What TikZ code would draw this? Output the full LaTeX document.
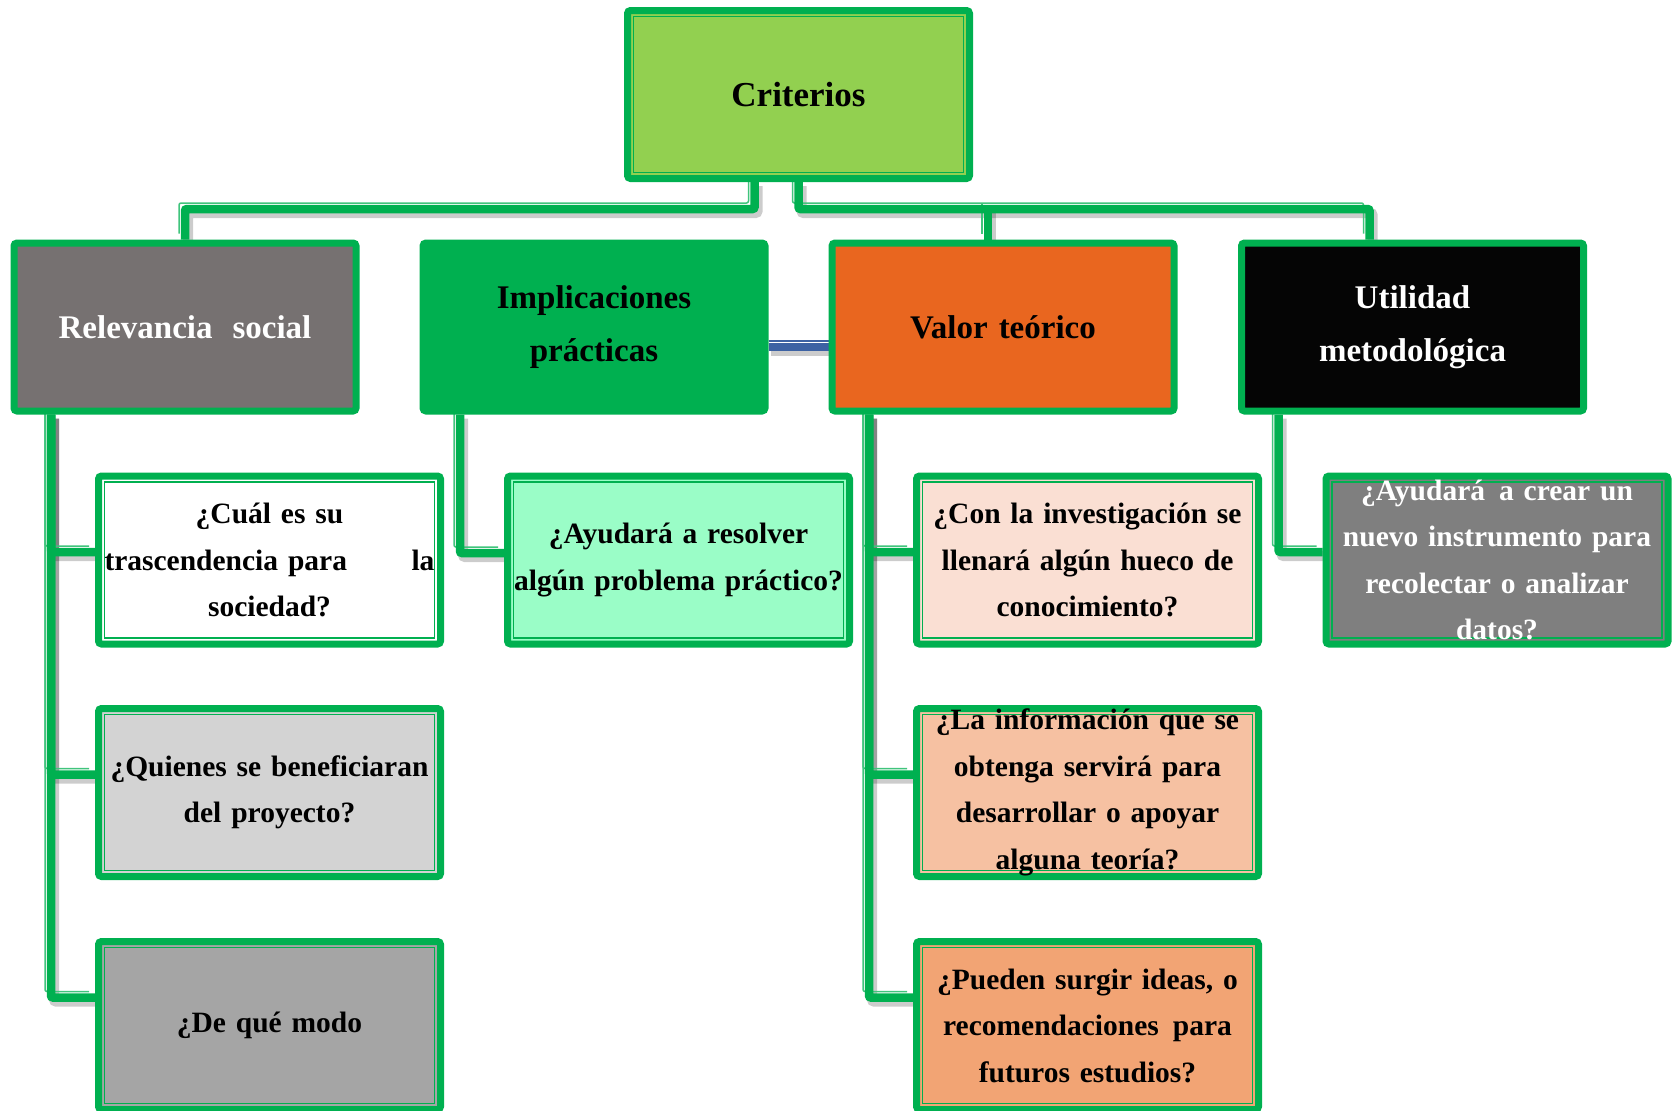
\documentclass[tikz,border=0pt]{standalone}
\usepackage{fontspec}
\setmainfont{Liberation Serif}
\usetikzlibrary{calc,backgrounds}
\definecolor{gr}{HTML}{00B050}
\definecolor{limeg}{HTML}{92D050}
\definecolor{relg}{HTML}{767171}
\definecolor{orng}{HTML}{E9661F}
\definecolor{blk}{HTML}{050505}
\definecolor{mint}{HTML}{9AFDC7}
\definecolor{peachA}{HTML}{FADFD3}
\definecolor{peachB}{HTML}{F6C1A2}
\definecolor{peachC}{HTML}{F2A474}
\definecolor{lgrey}{HTML}{D3D3D3}
\definecolor{mgrey}{HTML}{A5A5A5}
\definecolor{dgrey}{HTML}{7F7F7F}
\definecolor{blink}{HTML}{3D62A3}
\begin{document}
\begin{tikzpicture}[x=1pt,y=-1pt,
  box/.style={draw=gr, line width=7pt, rounded corners=3pt,
    minimum width=342pt, minimum height=168pt, inner sep=0pt,
    align=center, text width=332pt,
    font=\bfseries\fontsize{29.5}{46.5}\selectfont},
  headbox/.style={box, font=\bfseries\fontsize{33}{53}\selectfont},
  inner/.style={path picture={\draw[gr, line width=1.6pt, rounded corners=0pt]
     ([shift={(6pt,-6pt)}]path picture bounding box.north west) rectangle
     ([shift={(-6pt,6pt)}]path picture bounding box.south east);}},
  conn/.style={draw=gr, line width=8.5pt, rounded corners=2pt},
  cthin/.style={draw=gr!75, line width=1.5pt, rounded corners=2pt,
     transform canvas={shift={(-6pt,6pt)}}},
  cshadow/.style={draw=black, opacity=0.2, line width=10pt, rounded corners=2pt,
     transform canvas={shift={(3pt,-4pt)}}},
  bshadow/.style={draw=black, opacity=0.2, line width=11pt,
     transform canvas={shift={(2pt,-5pt)}}},
  bluelink/.style={draw=blink, line width=11pt},
  bluemid/.style={draw=white, line width=1.8pt, transform canvas={shift={(0pt,2.5pt)}}}
]
\useasboundingbox (0,0) rectangle (1676,1111);
\clip (0,0) rectangle (1676,1111);

% main node
\node[box, inner, fill=limeg, font=\bfseries\fontsize{35}{42}\selectfont] (crit) at (798.5,94.5) {Criterios};

% second level
\node[headbox, fill=relg, text=white] (rel) at (185,327) {Relevancia\hspace{20pt}social};
\node[headbox, fill=gr, text=black] (imp) at (594,327) {Implicaciones\\prácticas};
\node[headbox, fill=orng, text=black] (val) at (1003,327) {Valor teórico};
\node[headbox, fill=blk, text=white] (uti) at (1412.5,327) {Utilidad\\metodológica};

% third level
\node[box, inner, fill=white] (cual) at (269.5,560)
  {¿Cuál es su\\\makebox[330pt][s]{trascendencia para\hfill la}\\sociedad?};
\node[box, inner, fill=lgrey] (quien) at (269.5,792.5)
  {¿Quienes se beneficiaran\\del proyecto?};
\node[box, inner, fill=mgrey] (modo) at (269.5,1025.5) {¿De qué modo};
\node[box, inner, fill=mint] (ayuA) at (678.5,560)
  {¿Ayudará a resolver\\algún problema práctico?};
\node[box, inner, fill=peachA] (con) at (1087.5,560)
  {¿Con la investigación se\\llenará algún hueco de\\conocimiento?};
\node[box, inner, fill=peachB] (info) at (1087.5,792.5)
  {¿La información que se\\obtenga servirá para\\desarrollar o apoyar\\alguna teoría?};
\node[box, inner, fill=peachC] (pued) at (1087.5,1025.5)
  {¿Pueden surgir ideas, o\\recomendaciones\hspace{14pt}para\\futuros estudios?};
\node[box, inner, fill=dgrey, text=white] (ayuB) at (1497,560)
  {¿Ayudará\hspace{14pt}a crear un\\nuevo instrumento para\\recolectar o analizar\\datos?};

% helper coordinates
\coordinate (busY) at (0,209);
\coordinate (cL) at ($(crit.south)+(-44,0)$);
\coordinate (vL) at ($(val.north)+(-15,0)$);
\coordinate (uL) at ($(uti.north)+(-43,0)$);
\coordinate (rS) at ($(rel.south)+(-134,0)$);
\coordinate (iS) at ($(imp.south)+(-134,0)$);
\coordinate (vS) at ($(val.south)+(-134,0)$);
\coordinate (uS) at ($(uti.south)+(-134,0)$);
\coordinate (bl) at ([yshift=-18pt]imp.east);

\begin{scope}[on background layer]
\foreach \sty in {cshadow,cthin,conn}{
  \draw[\sty] (cL) -- (cL |- busY) -- (rel.north |- busY) -- (rel.north);
  \draw[\sty] (crit.south) -- (crit.south |- busY) -- (uL |- busY) -- (uL);
  \draw[\sty] (vL |- busY) -- (vL);
  \draw[\sty] (rS) |- ([yshift=8pt]cual.west);
  \draw[\sty] (rS) |- ([yshift=18pt]quien.west);
  \draw[\sty] (rS) |- ([yshift=28pt]modo.west);
  \draw[\sty] (iS) |- ([yshift=7pt]ayuA.west);
  \draw[\sty] (vS) |- ([yshift=8pt]con.west);
  \draw[\sty] (vS) |- ([yshift=18pt]info.west);
  \draw[\sty] (vS) |- ([yshift=28pt]pued.west);
  \draw[\sty] (uS) |- ([yshift=8pt]ayuB.west);
}
\draw[bshadow] (bl) -- (bl -| val.west);
\draw[bluelink] (bl) -- (bl -| val.west);
\draw[bluemid] (bl) -- (bl -| val.west);
\end{scope}
\end{tikzpicture}
\end{document}
